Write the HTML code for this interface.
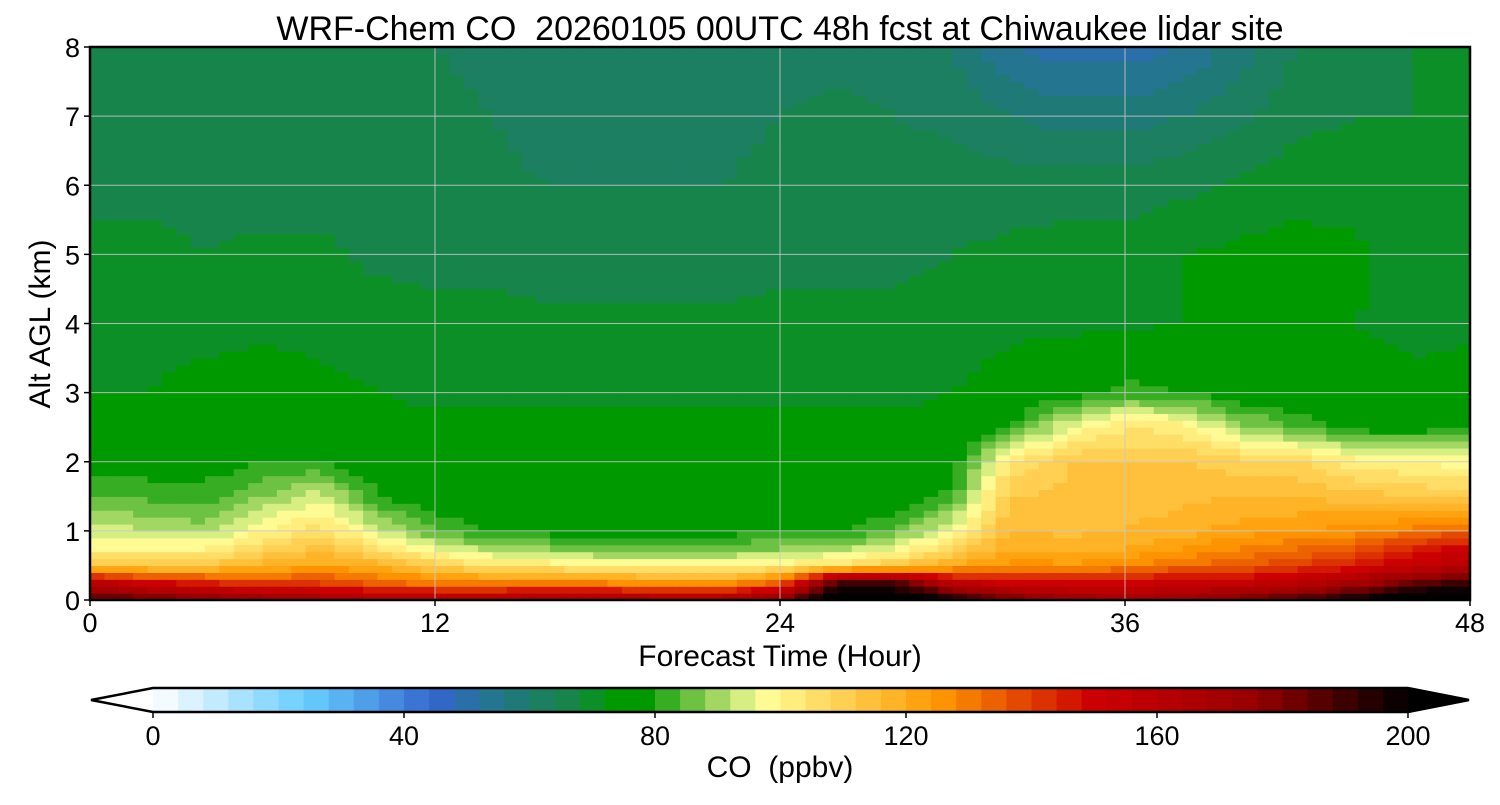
<!DOCTYPE html>
<html><head><meta charset="utf-8">
<style>
body{margin:0;background:#fff;width:1500px;height:800px;overflow:hidden;font-family:"Liberation Sans",sans-serif;}
svg text{font-family:"Liberation Sans",sans-serif;fill:#000;white-space:pre;}
</style></head>
<body>
<svg id="chart" width="1500" height="800">
<text x="780" y="40" font-size="34" text-anchor="middle" xml:space="preserve">WRF-Chem CO  20260105 00UTC 48h fcst at Chiwaukee lidar site</text>
<g id="cells"></g>
<g id="grid"></g>
<rect x="90" y="47" width="1380" height="553" fill="none" stroke="#000" stroke-width="2.5"/>
<g id="xaxis"></g>
<g id="yaxis"></g>
<text x="780" y="666" font-size="30" text-anchor="middle">Forecast Time (Hour)</text>
<text transform="translate(50,324) rotate(-90)" font-size="30" text-anchor="middle">Alt AGL (km)</text>
<g id="cbar"></g>
<text x="780" y="777" font-size="30" text-anchor="middle" xml:space="preserve">CO  (ppbv)</text>
</svg>
<script>
const times=[0,2,4,6,8,10,12,14,16,18,20,22,24,26,28,30,32,34,36,38,40,42,44,46,48];
const alts=[0,0.25,0.5,0.75,1,1.5,2,2.5,3,4,5,6,7,8];
const coValues=[
[190,160,115,100,95,84,78,76,72,70,69,67,68,68],
[185,150,112,99,92,83,77,76,72,71,69,67,66,67],
[180,145,112,100,90,82,77,76,73,71,68,67,66,67],
[175,140,118,108,100,88,80,77,74,71,69,66,66,67],
[170,140,122,114,106,95,80,75,73,71,69,66,66,67],
[165,135,118,105,94,80,75,74,72,70,67,66,65,64],
[165,130,110,96,84,76,75,73,71,69,67,66,65,64],
[165,128,105,90,80,75,75,73,71,69,67,65,64,63],
[170,130,103,88,78,75,75,73,71,69,66,64,62,60],
[170,128,100,86,78,75,75,73,71,69,66,64,62,60],
[168,125,100,86,78,75,75,73,71,69,66,64,62,60],
[168,125,100,86,78,75,75,73,71,69,66,64,62,60],
[180,135,102,88,80,75,75,73,71,69,67,66,64,62],
[210,190,106,90,80,75,75,73,71,69,67,66,65,63],
[210,190,112,96,84,76,75,73,71,69,67,66,64,62],
[200,160,120,108,98,82,76,74,72,70,68,66,63,60],
[185,150,126,120,116,112,104,80,74,71,69,66,60,52],
[175,150,125,118,115,113,112,96,77,71,70,66,58,50],
[170,150,128,120,116,114,112,104,82,71,70,66,58,50],
[175,155,132,124,118,115,112,102,80,72,72,67,60,52],
[180,155,135,128,122,116,110,90,76,72,73,69,63,58],
[190,160,140,132,124,116,108,84,75,72,74,70,67,64],
[200,170,145,135,126,114,102,78,74,72,73,70,68,66],
[210,185,155,145,130,112,100,77,73,71,70,69,68,68],
[210,190,160,150,135,110,98,80,74,71,70,69,68,68]];
const xTicks=[0,12,24,36,48];
const yTicks=[0,1,2,3,4,5,6,7,8];
const cbTicks=[0,40,80,120,160,200];

const NS="http://www.w3.org/2000/svg";
const PX0=90,PX1=1470,PY0=600,PY1=47;
const xS=t=>PX0+(t-0)/48*(PX1-PX0);
const yS=a=>PY0-(a/8)*(PY0-PY1);
const CB0=153,CB1=1408;
const cS=v=>CB0+v/200*(CB1-CB0);
const stops=[[0,[255,255,255]],[25,[102,204,255]],[45,[51,102,204]],[55,[34,119,136]],[63,[26,128,90]],[69,[20,138,60]],[72,[0,153,0]],[78,[0,153,0]],[88,[136,204,85]],[97,[255,255,153]],[125,[255,153,0]],[150,[204,0,0]],[175,[153,0,0]],[200,[0,0,0]]];
function color(v){
  v=Math.max(0,Math.min(200,Math.floor(v/4)*4+2));
  for(let i=1;i<stops.length;i++){if(v<=stops[i][0]){const a=stops[i-1],b=stops[i],f=(v-a[0])/(b[0]-a[0]);
    return 'rgb('+a[1].map((c,k)=>Math.round(c+(b[1][k]-c)*f)).join(',')+')';}}
  return 'rgb(0,0,0)';
}
function idx(arr,v){for(let i=0;i<arr.length-1;i++){if(v<=arr[i+1])return [i,(v-arr[i])/(arr[i+1]-arr[i])];}return [arr.length-2,1];}
function val(t,a){const [i,ft]=idx(times,t),[j,fa]=idx(alts,a);
  const v00=coValues[i][j],v01=coValues[i][j+1],v10=coValues[i+1][j],v11=coValues[i+1][j+1];
  return (v00*(1-fa)+v01*fa)*(1-ft)+(v10*(1-fa)+v11*fa)*ft;}
const cells=document.getElementById('cells');
const dt=0.5,da=0.1;
for(let t=0;t<48;t+=dt){for(let a=0;a<8-1e-9;a+=da){
  const r=document.createElementNS(NS,'rect');
  const x0=xS(t),x1=xS(t+dt),y0=yS(a+da),y1=yS(a);
  r.setAttribute('x',x0.toFixed(2));r.setAttribute('y',y0.toFixed(2));
  r.setAttribute('width',(x1-x0+0.6).toFixed(2));r.setAttribute('height',(y1-y0+0.6).toFixed(2));
  r.setAttribute('fill',color(val(t+dt/2,a+da/2)));
  
  
  cells.appendChild(r);
}}
const grid=document.getElementById('grid'),xa=document.getElementById('xaxis'),ya=document.getElementById('yaxis');
function line(g,x1,y1,x2,y2,st,w){const l=document.createElementNS(NS,'line');l.setAttribute('x1',x1);l.setAttribute('y1',y1);l.setAttribute('x2',x2);l.setAttribute('y2',y2);l.setAttribute('stroke',st);l.setAttribute('stroke-width',w);g.appendChild(l);return l;}
function txt(g,x,y,s,fs,anchor){const e=document.createElementNS(NS,'text');e.setAttribute('x',x);e.setAttribute('y',y);e.setAttribute('font-size',fs);e.setAttribute('text-anchor',anchor);e.textContent=s;g.appendChild(e);return e;}
xTicks.forEach(t=>{const x=xS(t);
  const g=line(grid,x,PY1,x,PY0,'rgba(200,200,200,0.85)',1);
  
  
  line(xa,x,PY0,x,PY0+6,'#000',1.5);
  const e=txt(xa,x,632,String(t),27,'middle');
  
  
});
yTicks.forEach(a=>{const y=yS(a);
  const g=line(grid,PX0,y,PX1,y,'rgba(200,200,200,0.85)',1);
  
  
  line(ya,PX0-6,y,PX0,y,'#000',1.5);
  const e=txt(ya,80,y+10,String(a),27,'end');
  
  
});
const cb=document.getElementById('cbar');
const CY0=688,CY1=712;
for(let v=0;v<200;v+=4){
  const r=document.createElementNS(NS,'rect');
  r.setAttribute('x',cS(v).toFixed(2));r.setAttribute('y',CY0);
  r.setAttribute('width',(cS(v+4)-cS(v)+0.5).toFixed(2));r.setAttribute('height',CY1-CY0);
  r.setAttribute('fill',color(v));
  
  
  cb.appendChild(r);
}
const tri=document.createElementNS(NS,'polygon');
tri.setAttribute('points',`${CB1},${CY0} 1469,700 ${CB1},${CY1}`);tri.setAttribute('fill','#000');


cb.appendChild(tri);
const tri2=document.createElementNS(NS,'polygon');
tri2.setAttribute('points',`${CB0},${CY0} 91,700 ${CB0},${CY1}`);tri2.setAttribute('fill','#fff');


cb.appendChild(tri2);
const outline=document.createElementNS(NS,'polygon');
outline.setAttribute('points',`91,700 ${CB0},${CY0} ${CB1},${CY0} 1469,700 ${CB1},${CY1} ${CB0},${CY1}`);
outline.setAttribute('fill','none');outline.setAttribute('stroke','#000');outline.setAttribute('stroke-width','2.5');


cb.appendChild(outline);
cbTicks.forEach(v=>{const x=cS(v);line(cb,x,CY1,x,CY1+6,'#000',1.5);
  const e=txt(cb,x,745,String(v),27,'middle');
  
  
});
</script>
</body></html>
